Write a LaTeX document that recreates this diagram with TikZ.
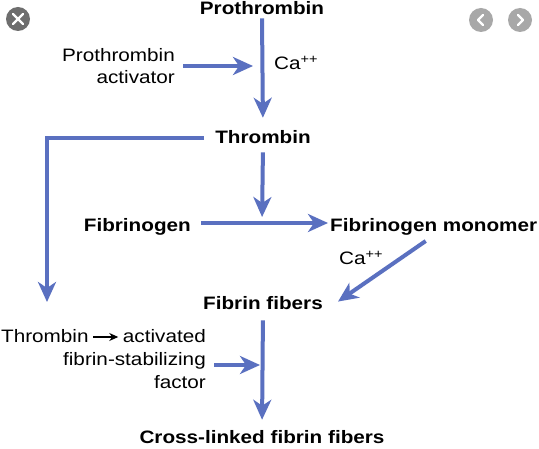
\documentclass[tikz,border=0pt]{standalone}
\usepackage{fontspec}
\setmainfont{Liberation Sans}[FakeStretch=1.15]
\usetikzlibrary{arrows.meta,calc}
\definecolor{flowblue}{RGB}{90,112,192}
\definecolor{icondark}{RGB}{110,110,110}
\definecolor{iconlight}{RGB}{168,168,168}
\tikzset{
  lbl/.style={inner sep=2pt,font=\fontsize{18}{23}\selectfont},
  blbl/.style={lbl,font=\fontsize{18}{23}\selectfont\bfseries},
  flow/.style={draw=flowblue,line width=4pt,-{Stealth[length=20pt,width=18pt,inset=6pt]}},
  iconbg/.style={circle,minimum size=24pt,inner sep=0pt},
  iconmark/.style={draw=white,line width=2.2pt,line cap=round,line join=round}
}
\begin{document}
\begin{tikzpicture}[x=1pt,y=-1pt]
\useasboundingbox[fill=white] (0,0) rectangle (539,449);
% icons
\node[iconbg,fill=icondark] (close) at (18,19) {};
\draw[iconmark] ($(close)+(-5,-5)$) -- ($(close)+(5,5)$) ($(close)+(-5,5)$) -- ($(close)+(5,-5)$);
\node[iconbg,fill=iconlight] (prev) at (481,20) {};
\draw[iconmark] ($(prev)+(2,-5)$) -- ($(prev)+(-3,0)$) -- ($(prev)+(2,5)$);
\node[iconbg,fill=iconlight] (next) at (520,20) {};
\draw[iconmark] ($(next)+(-2,-5)$) -- ($(next)+(3,0)$) -- ($(next)+(-2,5)$);
% texts
\node[blbl,anchor=base] (prothrombin) at (262,15) {Prothrombin};
\node[lbl,anchor=base east] (activator1) at (177,62) {Prothrombin};
\node[lbl,anchor=base east] (activator2) at (177,84) {activator};
\node[lbl,anchor=base west] (ca1) at (272,70) {Ca\textsuperscript{++}};
\node[blbl,anchor=base] (thrombin) at (263,144) {Thrombin};
\node[blbl,anchor=base east] (fibrinogen) at (193,232) {Fibrinogen};
\node[blbl,anchor=base west] (monomer) at (328,232) {Fibrinogen monomer};
\node[lbl,anchor=base west] (ca2) at (337,265) {Ca\textsuperscript{++}};
\node[blbl,anchor=base] (fibers) at (263,310) {Fibrin fibers};
\node[lbl,anchor=base east] (factor1) at (208,343) {Thrombin\hspace{4pt}\tikz[baseline=-6pt]\draw[black,line width=1.4pt,-{Stealth[length=9pt,width=8pt]}] (0pt,0pt) -- (25pt,0pt);\hspace{4pt}activated};
\node[lbl,anchor=base east] (factor2) at (208,366) {fibrin-stabilizing};
\node[lbl,anchor=base east] (factor3) at (208,389) {factor};
\node[blbl,anchor=base] (crosslinked) at (262,443) {Cross-linked fibrin fibers};
% junctions
\coordinate (j1) at (262,66);
\coordinate (j2) at (262,223);
\coordinate (j3) at (262,365);
\coordinate (tdown) at (47,302);
% connectors
\draw[flow,shorten <=1pt,shorten >=11pt] (prothrombin.south) -- (thrombin.north);
\draw[flow,shorten <=6pt,shorten >=9pt] (activator1.east |- j1) -- (j1);
\draw[flow,shorten <=9pt] (thrombin.west) -| (tdown);
\draw[flow,shorten <=6pt,shorten >=6pt] (thrombin.south) -- (j2);
\draw[flow,shorten <=8pt] (fibrinogen.east |- j2) -- (monomer.west |- j2);
\draw[flow] ([shift={(-8,3)}]monomer.south) -- ([shift={(13,-2)}]fibers.east);
\draw[flow,shorten <=8pt,shorten >=8pt] (fibers.south) -- (crosslinked.north);
\draw[flow,shorten <=6pt,shorten >=2pt] (factor2.east |- j3) -- (j3);
\end{tikzpicture}
\end{document}
